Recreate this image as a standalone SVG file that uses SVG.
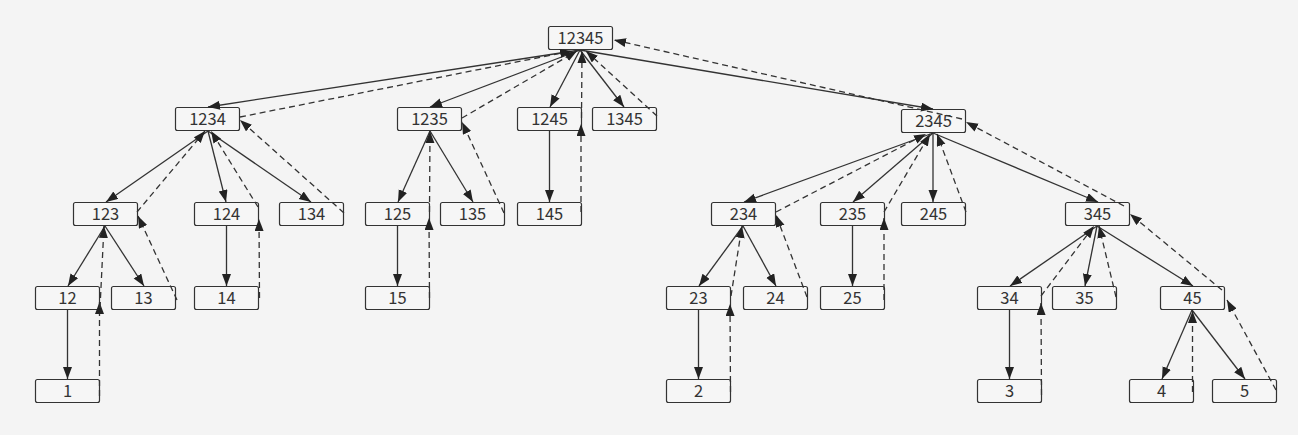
<svg xmlns="http://www.w3.org/2000/svg" width="1298" height="435" viewBox="0 0 1298 435">
<defs>
<style>
.n rect{fill:#f6f6f6;stroke:#333;stroke-width:1.2}
.n text{font-family:"Noto Sans CJK SC","Liberation Sans",sans-serif;font-size:16.5px;fill:#333;text-anchor:middle}
.s line{stroke:#333;stroke-width:1.3;fill:none;marker-end:url(#ah)}
.d line{stroke:#333;stroke-width:1.3;fill:none;stroke-dasharray:6,4;marker-end:url(#ah)}
</style>
<marker id="ah" markerUnits="userSpaceOnUse" markerWidth="13" markerHeight="10" refX="12" refY="4.5" orient="auto">
<path d="M0,0 L12,4.5 L0,9 Z" fill="#222"/>
</marker>
</defs>
<rect width="1298" height="435" fill="#f4f4f4"/>
<g id="nodes">
<g id="n12345" class="n"><rect x="548.5" y="26.5" width="64" height="23" rx="2"/><text x="580.5" y="43.5">12345</text></g>
<g id="n1234" class="n"><rect x="175.5" y="107.5" width="64" height="23" rx="2"/><text x="207.5" y="124.5">1234</text></g>
<g id="n1235" class="n"><rect x="397.5" y="107.5" width="64" height="23" rx="2"/><text x="429.5" y="124.5">1235</text></g>
<g id="n1245" class="n"><rect x="517.5" y="107.5" width="64" height="23" rx="2"/><text x="549.5" y="124.5">1245</text></g>
<g id="n1345" class="n"><rect x="592.5" y="107.5" width="64" height="23" rx="2"/><text x="624.5" y="124.5">1345</text></g>
<g id="n2345" class="n"><rect x="901.5" y="109.5" width="64" height="23" rx="2"/><text x="933.5" y="126.5">2345</text></g>
<g id="n123" class="n"><rect x="73.5" y="202.5" width="64" height="23" rx="2"/><text x="105.5" y="219.5">123</text></g>
<g id="n124" class="n"><rect x="194.5" y="202.5" width="64" height="23" rx="2"/><text x="226.5" y="219.5">124</text></g>
<g id="n134" class="n"><rect x="279.5" y="202.5" width="64" height="23" rx="2"/><text x="311.5" y="219.5">134</text></g>
<g id="n125" class="n"><rect x="365.5" y="202.5" width="64" height="23" rx="2"/><text x="397.5" y="219.5">125</text></g>
<g id="n135" class="n"><rect x="440.5" y="202.5" width="64" height="23" rx="2"/><text x="472.5" y="219.5">135</text></g>
<g id="n145" class="n"><rect x="517.5" y="202.5" width="64" height="23" rx="2"/><text x="549.5" y="219.5">145</text></g>
<g id="n234" class="n"><rect x="711.5" y="202.5" width="64" height="23" rx="2"/><text x="743.5" y="219.5">234</text></g>
<g id="n235" class="n"><rect x="820.5" y="202.5" width="64" height="23" rx="2"/><text x="852.5" y="219.5">235</text></g>
<g id="n245" class="n"><rect x="901.5" y="202.5" width="64" height="23" rx="2"/><text x="933.5" y="219.5">245</text></g>
<g id="n345" class="n"><rect x="1065.5" y="202.5" width="64" height="23" rx="2"/><text x="1097.5" y="219.5">345</text></g>
<g id="n12" class="n"><rect x="35.5" y="286.5" width="64" height="23" rx="2"/><text x="67.5" y="303.5">12</text></g>
<g id="n13" class="n"><rect x="111.5" y="286.5" width="64" height="23" rx="2"/><text x="143.5" y="303.5">13</text></g>
<g id="n14" class="n"><rect x="194.5" y="286.5" width="64" height="23" rx="2"/><text x="226.5" y="303.5">14</text></g>
<g id="n15" class="n"><rect x="365.5" y="286.5" width="64" height="23" rx="2"/><text x="397.5" y="303.5">15</text></g>
<g id="n23" class="n"><rect x="666.5" y="286.5" width="64" height="23" rx="2"/><text x="698.5" y="303.5">23</text></g>
<g id="n24" class="n"><rect x="743.5" y="286.5" width="64" height="23" rx="2"/><text x="775.5" y="303.5">24</text></g>
<g id="n25" class="n"><rect x="820.5" y="286.5" width="64" height="23" rx="2"/><text x="852.5" y="303.5">25</text></g>
<g id="n34" class="n"><rect x="977.5" y="286.5" width="64" height="23" rx="2"/><text x="1009.5" y="303.5">34</text></g>
<g id="n35" class="n"><rect x="1052.5" y="286.5" width="64" height="23" rx="2"/><text x="1084.5" y="303.5">35</text></g>
<g id="n45" class="n"><rect x="1160.5" y="286.5" width="64" height="23" rx="2"/><text x="1192.5" y="303.5">45</text></g>
<g id="n1" class="n"><rect x="35.5" y="379.5" width="64" height="23" rx="2"/><text x="67.5" y="396.5">1</text></g>
<g id="n2" class="n"><rect x="666.5" y="379.5" width="64" height="23" rx="2"/><text x="698.5" y="396.5">2</text></g>
<g id="n3" class="n"><rect x="977.5" y="379.5" width="64" height="23" rx="2"/><text x="1009.5" y="396.5">3</text></g>
<g id="n4" class="n"><rect x="1129.5" y="379.5" width="64" height="23" rx="2"/><text x="1161.5" y="396.5">4</text></g>
<g id="n5" class="n"><rect x="1212.5" y="379.5" width="64" height="23" rx="2"/><text x="1244.5" y="396.5">5</text></g>
</g>
<g id="connectors">
<g class="s">
<line x1="580" y1="50" x2="208" y2="107"/>
<line x1="580" y1="50" x2="430" y2="107"/>
<line x1="580" y1="50" x2="550" y2="107"/>
<line x1="580" y1="50" x2="624" y2="107"/>
<line x1="580" y1="50" x2="933" y2="109"/>
<line x1="208" y1="131" x2="106" y2="202"/>
<line x1="208" y1="131" x2="226" y2="202"/>
<line x1="208" y1="131" x2="311" y2="202"/>
<line x1="430" y1="131" x2="398" y2="202"/>
<line x1="430" y1="131" x2="473" y2="202"/>
<line x1="549.5" y1="131" x2="549.5" y2="202"/>
<line x1="933" y1="133" x2="744" y2="202"/>
<line x1="933" y1="133" x2="853" y2="202"/>
<line x1="933" y1="133" x2="933" y2="202"/>
<line x1="933" y1="133" x2="1098" y2="202"/>
<line x1="105" y1="226" x2="68" y2="286"/>
<line x1="105" y1="226" x2="144" y2="286"/>
<line x1="226.5" y1="226" x2="226.5" y2="286"/>
<line x1="397.5" y1="226" x2="397.5" y2="286"/>
<line x1="743" y1="226" x2="699" y2="286"/>
<line x1="743" y1="226" x2="776" y2="286"/>
<line x1="852.5" y1="226" x2="852.5" y2="286"/>
<line x1="1097" y1="226" x2="1010" y2="286"/>
<line x1="1097" y1="226" x2="1085" y2="286"/>
<line x1="1097" y1="226" x2="1193" y2="286"/>
<line x1="67.5" y1="310" x2="67.5" y2="379"/>
<line x1="698.5" y1="310" x2="698.5" y2="379"/>
<line x1="1009.5" y1="310" x2="1009.5" y2="379"/>
<line x1="1192" y1="310" x2="1162" y2="379"/>
<line x1="1192" y1="310" x2="1245" y2="379"/>
</g>
<g class="d">
<line x1="99.5" y1="396" x2="99.5" y2="302"/>
<line x1="100" y1="308" x2="104" y2="226"/>
<line x1="177" y1="300" x2="138" y2="216"/>
<line x1="137" y1="212" x2="205" y2="131"/>
<line x1="258" y1="207" x2="211" y2="131"/>
<line x1="344" y1="213" x2="240" y2="120"/>
<line x1="259.5" y1="298" x2="259" y2="219"/>
<line x1="240" y1="117" x2="572" y2="51"/>
<line x1="462" y1="118" x2="577" y2="51"/>
<line x1="429.5" y1="212" x2="430" y2="131"/>
<line x1="429.5" y1="298" x2="429" y2="218"/>
<line x1="504" y1="213" x2="462" y2="122"/>
<line x1="581" y1="212" x2="581" y2="124"/>
<line x1="581.5" y1="118" x2="582" y2="51"/>
<line x1="657" y1="116" x2="586" y2="51"/>
<line x1="962" y1="119" x2="614" y2="40"/>
<line x1="776" y1="212" x2="926" y2="134"/>
<line x1="884" y1="212" x2="930" y2="134"/>
<line x1="966" y1="212" x2="937" y2="134"/>
<line x1="1124" y1="206" x2="966" y2="122"/>
<line x1="731" y1="296" x2="742" y2="226"/>
<line x1="807" y1="297" x2="776" y2="215"/>
<line x1="730.5" y1="392" x2="730" y2="304"/>
<line x1="884" y1="300" x2="884" y2="218"/>
<line x1="1041" y1="296" x2="1094" y2="226"/>
<line x1="1116" y1="297" x2="1099" y2="226"/>
<line x1="1222" y1="290" x2="1130" y2="214"/>
<line x1="1041.5" y1="395" x2="1041" y2="303"/>
<line x1="1192.5" y1="392" x2="1192.5" y2="311"/>
<line x1="1276" y1="390" x2="1227" y2="300"/>
</g>
</g>
</svg>
